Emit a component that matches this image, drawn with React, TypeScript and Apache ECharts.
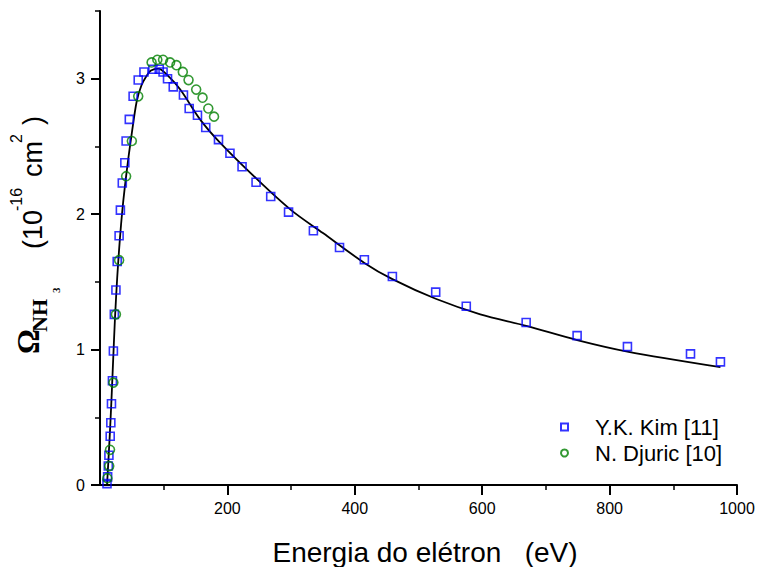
import React, { useEffect, useRef } from 'react';
import * as echarts from 'echarts';

// Y.K. Kim [11] (BEB) – energy (eV) and cross section (10^-16 cm^2)
const kimEnergy = [11, 12, 13, 14, 16, 17, 18, 19.5, 21, 22.5, 25, 27, 30, 32, 35, 39, 41, 46, 52, 60, 69, 83, 93, 99, 106, 115, 131, 140, 153, 166, 186, 204, 223, 245, 268, 296, 335, 376, 415, 459, 527, 575, 669, 749, 828, 927, 974];
const kimOmega = [0.01, 0.06, 0.14, 0.22, 0.36, 0.46, 0.6, 0.77, 0.99, 1.26, 1.44, 1.65, 1.84, 2.03, 2.23, 2.38, 2.54, 2.7, 2.87, 2.99, 3.05, 3.07, 3.07, 3.05, 3.0, 2.94, 2.88, 2.78, 2.73, 2.64, 2.55, 2.45, 2.35, 2.235, 2.13, 2.015, 1.877, 1.754, 1.663, 1.54, 1.424, 1.32, 1.2, 1.103, 1.022, 0.968, 0.909];

// N. Djuric [10]
const djuricEnergy = [11.5, 14.5, 15.7, 21, 25, 30, 41, 50, 60, 81, 90, 99, 110, 120, 130, 139, 151, 161, 170, 179];
const djuricOmega = [0.05, 0.14, 0.26, 0.756, 1.26, 1.66, 2.28, 2.54, 2.87, 3.12, 3.14, 3.14, 3.12, 3.1, 3.05, 2.99, 2.92, 2.86, 2.78, 2.72];

// Calculated curve (black line)
const fitEnergy = [11, 12, 14, 16, 18, 20, 23.6, 27, 30, 33, 36.6, 41, 45, 50, 57.5, 65, 73, 80, 91.6, 105, 126, 157, 188, 246, 300, 350, 415, 459, 527, 597, 669, 749, 828, 974];
const fitOmega = [0, 0.08, 0.25, 0.43, 0.63, 0.85, 1.24, 1.53, 1.74, 1.92, 2.1, 2.28, 2.43, 2.6, 2.83, 2.95, 3.02, 3.06, 3.075, 3.03, 2.92, 2.7, 2.53, 2.26, 2.03, 1.86, 1.64, 1.52, 1.375, 1.26, 1.175, 1.07, 0.985, 0.87];

const xLabelValues = [200, 400, 600, 800, 1000];
const xMinorTickValues = [100, 300, 500, 700, 900];
const yLabelValues = [0, 1, 2, 3];
const yMinorTickValues = [0.5, 1.5, 2.5, 3.5];

const seriesNames = ['Y.K. Kim [11]', 'N. Djuric [10]'];
const xTitle = 'Energia do elétron   (eV)';

const SANS = '"Liberation Sans", Arial, Helvetica, sans-serif';
const SERIF = '"Liberation Serif", "Times New Roman", serif';

const pairs = (xs: number[], ys: number[]) => xs.map((x, i) => [x, ys[i]]);

const rotText = (text: string, x: number, y: number, fontSize: number, fontFamily: string, fontWeight: string = 'normal') => ({
  type: 'text',
  x,
  y,
  rotation: Math.PI / 2,
  style: {
    text,
    fontSize,
    fontFamily,
    fontWeight,
    fill: '#000',
    align: 'left',
    verticalAlign: 'middle',
  },
});

export default function App() {
  const ref = useRef<HTMLDivElement>(null);

  useEffect(() => {
    if (!ref.current) return;
    const chart = echarts.init(ref.current, undefined, { renderer: 'svg' });
    const axisLine = { show: true, lineStyle: { color: '#000', width: 2 } };
    const plain = (v: number) => String(v);
    chart.setOption({
      animation: false,
      backgroundColor: '#fff',
      grid: { left: 100, right: 20, top: 11, bottom: 82, containLabel: false, outerBoundsMode: 'none' },
      xAxis: [
        {
          type: 'value',
          min: 0,
          max: 1000,
          interval: 100,
          position: 'bottom',
          axisLine,
          axisTick: { show: true, customValues: xMinorTickValues, length: 5, lineStyle: { color: '#000', width: 1.5 } },
          axisLabel: { show: true, customValues: xLabelValues, formatter: plain, margin: 15, color: '#000', fontSize: 16, fontFamily: SANS },
          splitLine: { show: false },
        },
        {
          type: 'value',
          min: 0,
          max: 1000,
          interval: 100,
          position: 'bottom',
          offset: 0,
          axisLine: { show: false },
          axisTick: { show: true, customValues: xLabelValues, length: 10, lineStyle: { color: '#000', width: 2 } },
          axisLabel: { show: false },
          splitLine: { show: false },
        },
      ],
      yAxis: [
        {
          type: 'value',
          min: 0,
          max: 3.5,
          interval: 0.5,
          position: 'left',
          axisLine,
          axisTick: { show: true, customValues: yMinorTickValues, length: 5, lineStyle: { color: '#000', width: 1.5 } },
          axisLabel: { show: true, customValues: yLabelValues, formatter: plain, margin: 15, color: '#000', fontSize: 16, fontFamily: SANS },
          splitLine: { show: false },
        },
        {
          type: 'value',
          min: 0,
          max: 3.5,
          interval: 0.5,
          position: 'left',
          offset: 0,
          axisLine: { show: false },
          axisTick: { show: true, customValues: yLabelValues, length: 9, lineStyle: { color: '#000', width: 2 } },
          axisLabel: { show: false },
          splitLine: { show: false },
        },
      ],
      legend: {
        data: seriesNames,
        orient: 'vertical',
        left: 555,
        top: 411,
        itemWidth: 7,
        itemHeight: 7,
        itemGap: 4,
        selectedMode: false,
        textStyle: { fontSize: 22, fontFamily: SANS, color: '#000', padding: [0, 0, 0, 22] },
      },
      series: [
        {
          name: 'fit',
          type: 'line',
          data: pairs(fitEnergy, fitOmega),
          showSymbol: false,
          symbol: 'none',
          smooth: 0.3,
          lineStyle: { color: '#000', width: 1.8 },
          z: 2,
        },
        {
          name: seriesNames[0],
          type: 'scatter',
          data: pairs(kimEnergy, kimOmega),
          symbol: 'rect',
          symbolSize: 8,
          itemStyle: { color: 'rgba(255,255,255,0)', borderColor: '#0000ff', borderWidth: 1.6 },
          z: 3,
        },
        {
          name: seriesNames[1],
          type: 'scatter',
          data: pairs(djuricEnergy, djuricOmega),
          symbol: 'circle',
          symbolSize: 9,
          itemStyle: { color: 'rgba(255,255,255,0)', borderColor: '#008000', borderWidth: 1.6 },
          z: 4,
        },
      ],
      graphic: [
        {
          type: 'text',
          x: 425,
          y: 552,
          style: { text: xTitle, fontSize: 28, fontFamily: SANS, fill: '#000', align: 'center', verticalAlign: 'middle' },
        },
        rotText('Ω', 28.5, 354, 31, SERIF, 'bold'),
        rotText('NH', 39.6, 332, 22, SERIF, 'bold'),
        rotText('3', 56.3, 293, 11, SERIF, 'bold'),
        rotText('(10', 32.6, 249, 27, SANS),
        rotText('-16', 16.5, 211, 16, SANS),
        rotText('cm', 32.6, 177, 27, SANS),
        rotText('2', 16.5, 143, 16, SANS),
        rotText(')', 32.6, 125, 27, SANS),
      ],
    });
    return () => chart.dispose();
  }, []);

  return <div ref={ref} style={{ position: 'fixed', left: 0, top: 0, width: 757, height: 567 }} />;
}
